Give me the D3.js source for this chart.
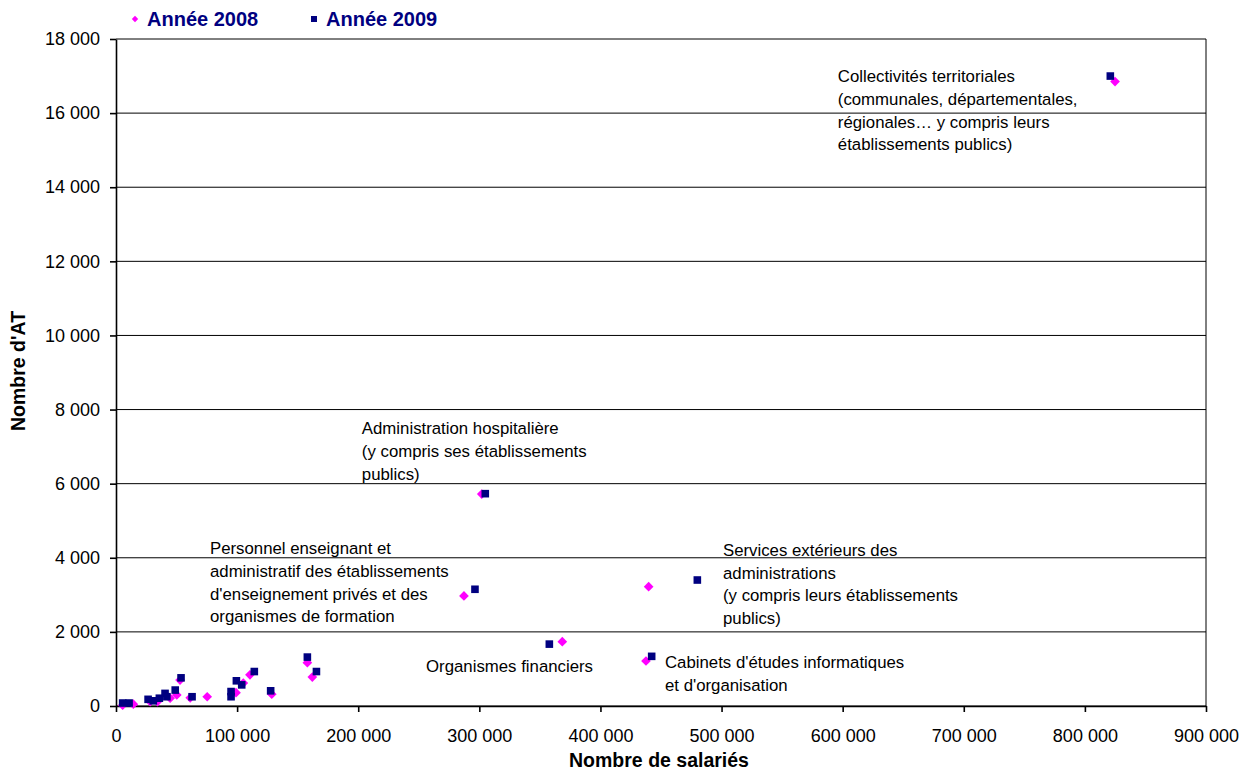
<!DOCTYPE html>
<html>
<head>
<meta charset="utf-8">
<script src="https://cdn.jsdelivr.net/npm/d3@7"></script>
<style>
  body { margin: 0; background: #fff; }
  text { font-family: "Liberation Sans", Arial, sans-serif; }
</style>
</head>
<body>
<script>
const W = 1250, H = 774;
const margin = {top: 39, right: 44, bottom: 68, left: 116};

// Année 2008 (diamants)
const salaries2008 = [5500, 14300, 28200, 34300, 44700, 50200, 52900, 61300, 75300, 99100, 105100, 110600,
    128600, 158000, 162100, 287300, 302000, 368500, 437600, 439800, 824900];
const at2008 = [20, 50, 120, 120, 210, 300, 700, 220, 250, 360, 620, 840,
    320, 1170, 780, 2970, 5720, 1735, 1215, 3220, 16850];

// Année 2009 (carrés)
const salaries2009 = [5500, 10800, 26500, 30800, 35800, 40500, 42000, 48900, 53700, 62800, 95000, 95000, 99400,
    103800, 114200, 127700, 158000, 165500, 296400, 304900, 357800, 442300, 480000, 821000];
const at2009 = [80, 80, 180, 140, 210, 340, 250, 430, 760, 250, 390, 250, 680,
    570, 930, 410, 1320, 930, 3150, 5730, 1670, 1340, 3400, 17000];

const xTicks = d3.range(0, 900001, 100000);
const yTicks = d3.range(0, 18001, 2000);

const seriesNames = ["Année 2008", "Année 2009"];

// libellés posés sur le graphique (position en unités des axes)
const labelText = [
    ["Collectivités territoriales", "(communales, départementales,", "régionales… y compris leurs", "établissements publics)"],
    ["Administration hospitalière", "(y compris ses établissements", "publics)"],
    ["Personnel enseignant et", "administratif des établissements", "d'enseignement privés et des", "organismes de formation"],
    ["Services extérieurs des", "administrations", "(y compris leurs établissements", "publics)"],
    ["Organismes financiers"],
    ["Cabinets d'études informatiques", "et d'organisation"]
];
const labelX = [596000, 203000, 77600, 501200, 256000, 453300];
const labelY = [17000, 7500, 4260, 4210, 1080, 1190];

const fr = d3.formatLocale({decimal: ",", thousands: " ", grouping: [3], currency: ["", " €"]});
const fmt = fr.format(",d");

const svg = d3.select("body").append("svg")
    .attr("width", W).attr("height", H);

const x = d3.scaleLinear().domain([0, 900000]).range([margin.left, W - margin.right]);
const y = d3.scaleLinear().domain([0, 18000]).range([H - margin.bottom, margin.top]);

// quadrillage horizontal
svg.append("g")
    .selectAll("line")
    .data(yTicks)
    .enter()
    .append("line")
    .attr("x1", x(0)).attr("x2", x(900000))
    .attr("y1", d => y(d)).attr("y2", d => y(d))
    .attr("stroke", "#000").attr("stroke-width", 1);

// cadre droit
svg.append("line")
    .attr("x1", x(900000)).attr("x2", x(900000))
    .attr("y1", y(18000)).attr("y2", y(0))
    .attr("stroke", "#000");

const xAxis = svg.append("g")
    .attr("transform", "translate(0," + y(0) + ")")
    .call(d3.axisBottom(x).tickValues(xTicks).tickFormat(fmt).tickSize(6).tickSizeOuter(0));
xAxis.selectAll("text").attr("font-size", 18).attr("dy", "1.5em").attr("fill", "#000");

const yAxis = svg.append("g")
    .attr("transform", "translate(" + x(0) + ",0)")
    .call(d3.axisLeft(y).tickValues(yTicks).tickFormat(fmt).tickSize(6).tickSizeOuter(0));
yAxis.selectAll("text").attr("font-size", 18).attr("fill", "#000").attr("x", -16);

svg.selectAll(".domain, .tick line").attr("stroke", "#000").attr("stroke-width", 1.6);

// titres des axes
svg.append("text")
    .attr("x", (x(0) + x(900000)) / 2 - 2)
    .attr("y", 767)
    .attr("text-anchor", "middle")
    .attr("font-size", 19.5).attr("font-weight", "bold")
    .text("Nombre de salariés");

svg.append("text")
    .attr("transform", "translate(25,371) rotate(-90)")
    .attr("text-anchor", "middle")
    .attr("font-size", 19.5).attr("font-weight", "bold")
    .text("Nombre d'AT");

// points
const diamond = d3.symbol().type(d3.symbolDiamond2).size(60);

svg.append("g")
    .selectAll("path")
    .data(salaries2008)
    .enter()
    .append("path")
    .attr("d", diamond)
    .attr("transform", (d, i) => "translate(" + x(d) + "," + y(at2008[i]) + ")")
    .attr("fill", "#FF00FF");

svg.append("g")
    .selectAll("rect")
    .data(salaries2009)
    .enter()
    .append("rect")
    .attr("x", d => x(d) - 3.8)
    .attr("y", (d, i) => y(at2009[i]) - 3.8)
    .attr("width", 7.6).attr("height", 7.6)
    .attr("fill", "#000080");

// libellés
const lab = svg.append("g");
labelText.forEach(function (lines, k) {
    lab.append("text")
        .attr("x", x(labelX[k]))
        .attr("y", y(labelY[k]))
        .attr("font-size", 16.8)
        .attr("fill", "#000")
        .selectAll("tspan")
        .data(lines)
        .enter()
        .append("tspan")
        .attr("x", x(labelX[k]))
        .attr("dy", (d, i) => i === 0 ? "0.35em" : 22.8)
        .text(d => d);
});

// légende
const leg = svg.append("g");
leg.append("path")
    .attr("d", d3.symbol().type(d3.symbolDiamond2).size(26))
    .attr("transform", "translate(135,19)")
    .attr("fill", "#FF00FF");
leg.append("rect")
    .attr("x", 311).attr("y", 16).attr("width", 6).attr("height", 6)
    .attr("fill", "#000080");
leg.selectAll("text")
    .data(seriesNames)
    .enter()
    .append("text")
    .attr("x", (d, i) => i === 0 ? 147 : 326)
    .attr("y", 19)
    .attr("dy", "0.35em")
    .attr("font-size", 20).attr("font-weight", "bold")
    .attr("fill", "#000080")
    .text(d => d);
</script>
</body>
</html>
